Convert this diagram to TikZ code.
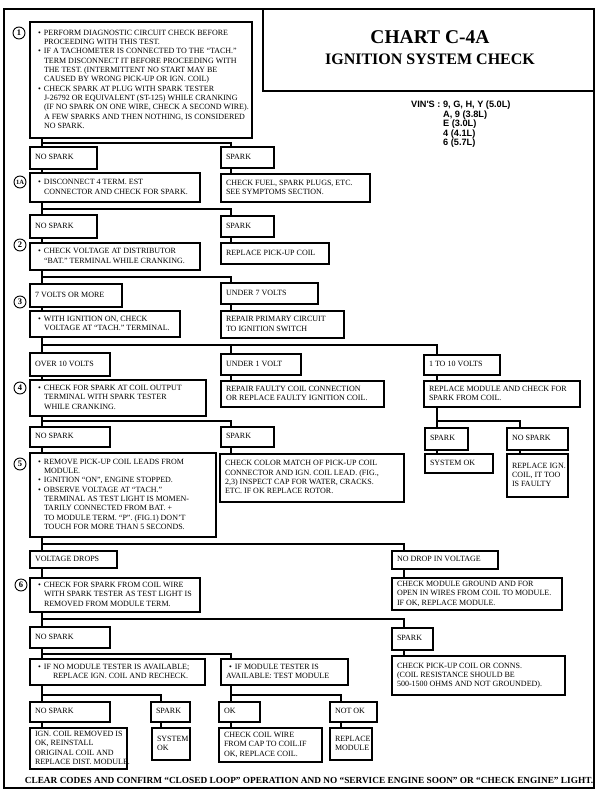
\documentclass[tikz,border=0pt]{standalone}
\usepackage{fontspec}
\setmainfont{Liberation Serif}
\newfontfamily\vinfont{Liberation Sans}
\newcommand\bul{\hspace*{3pt}\makebox[6pt][l]{\textbullet}}
\newcommand\cn{\hspace*{9pt}}
\newcommand\bx[7][]{%
  \pgfmathsetmacro\bw{#5-#3}%
  \pgfmathsetmacro\bh{#6-#4}%
  \pgfmathsetmacro\tw{#5-#3-10}%
  \node[box,anchor=north west,minimum width=\bw pt,minimum height=\bh pt,#1] (#2) at (#3,#4)
    {\makebox[\tw pt][l]{\begin{tabular}{@{}l@{}}#7\end{tabular}}};}
\tikzset{
  box/.style={draw, line width=1.1pt, rectangle, inner xsep=5pt, inner ysep=0pt, outer sep=0pt, font=\fontsize{8}{9.3}\selectfont},
  conn/.style={line width=1.8pt},
  frame/.style={line width=1.6pt},
  num/.style={circle, draw, line width=0.9pt, inner sep=0pt, minimum size=12pt, font=\bfseries\fontsize{8.5}{8.5}\selectfont}
}
\begin{document}
\begin{tikzpicture}[x=1pt,y=-1pt]
\fill[white] (0,0) rectangle (600,795);
\useasboundingbox (0,0) rectangle (600,795);
% frame and title
\draw[frame] (4,9) rectangle (594,788);
\draw[frame] (263,9) -- (263,91) -- (594,91);
\node[font=\bfseries\fontsize{19.5}{20}\selectfont] (title) at (430,37) {CHART C-4A};
\node[font=\bfseries\fontsize{16}{17}\selectfont] (subtitle) at (430,59) {IGNITION SYSTEM CHECK};
\node[anchor=north west, inner sep=0pt, align=left, font=\vinfont\bfseries\fontsize{9.2}{9.5}\selectfont] (vin) at (411,101)
 {VIN'S : 9, G, H, Y (5.0L)\\\hspace*{32pt}A, 9 (3.8L)\\\hspace*{32pt}E (3.0L)\\\hspace*{32pt}4 (4.1L)\\\hspace*{32pt}6 (5.7L)};
% column coordinates
\coordinate (L) at (42,0);
\coordinate (C2) at (231,0);
\coordinate (C3) at (437,0);
\coordinate (C3b) at (520,0);
\coordinate (C4) at (404,0);
\coordinate (Cs) at (161,0);
\coordinate (Cn) at (341,0);
\coordinate (h1) at (42,143);
\coordinate (h2) at (42,209);
\coordinate (h3) at (42,277);
\coordinate (h4) at (42,345);
\coordinate (h5) at (42,421);
\coordinate (h5b) at (437,421);
\coordinate (h6) at (42,544);
\coordinate (h7) at (42,619);
\coordinate (h8) at (42,654);
\coordinate (h9) at (42,695);
\coordinate (h9b) at (231,695);
% boxes column 1
\bx{b1}{30}{22}{252}{138}{\bul PERFORM DIAGNOSTIC CIRCUIT CHECK BEFORE\\\cn PROCEEDING WITH THIS TEST.\\
\bul IF A TACHOMETER IS CONNECTED TO THE ``TACH.''\\\cn TERM DISCONNECT IT BEFORE PROCEEDING WITH\\\cn THE TEST. (INTERMITTENT NO START MAY BE\\\cn CAUSED BY WRONG PICK-UP OR IGN. COIL)\\
\bul CHECK SPARK AT PLUG WITH SPARK TESTER\\\cn J-26792 OR EQUIVALENT (ST-125) WHILE CRANKING\\\cn (IF NO SPARK ON ONE WIRE, CHECK A SECOND WIRE).\\\cn A FEW SPARKS AND THEN NOTHING, IS CONSIDERED\\\cn NO SPARK.}
\bx{ns1}{30}{147}{97}{169}{NO SPARK}
\bx{b1a}{30}{173}{200}{202}{\bul DISCONNECT 4 TERM. EST\\\cn CONNECTOR AND CHECK FOR SPARK.}
\bx{ns2}{30}{215}{97}{238}{NO SPARK}
\bx{b2}{30}{243}{200}{270}{\bul CHECK VOLTAGE AT DISTRIBUTOR\\\cn ``BAT.'' TERMINAL WHILE CRANKING.}
\bx{v7}{30}{284}{122}{307}{7 VOLTS OR MORE}
\bx{b3}{30}{311}{180}{337}{\bul WITH IGNITION ON, CHECK\\\cn VOLTAGE AT ``TACH.'' TERMINAL.}
\bx{o10}{30}{353}{110}{376}{OVER 10 VOLTS}
\bx{b4}{30}{380}{206}{416}{\bul CHECK FOR SPARK AT COIL OUTPUT\\\cn TERMINAL WITH SPARK TESTER\\\cn WHILE CRANKING.}
\bx{ns3}{30}{427}{110}{447}{NO SPARK}
\bx{b5}{30}{453}{216}{537}{\bul REMOVE PICK-UP COIL LEADS FROM\\\cn MODULE.\\
\bul IGNITION ``ON'', ENGINE STOPPED.\\
\bul OBSERVE VOLTAGE AT ``TACH.''\\\cn TERMINAL AS TEST LIGHT IS MOMEN-\\\cn TARILY CONNECTED FROM BAT. +\\\cn TO MODULE TERM. ``P''. (FIG.1) DON'T\\\cn TOUCH FOR MORE THAN 5 SECONDS.}
\bx{vd}{30}{551}{117}{568}{VOLTAGE DROPS}
\bx{b6}{30}{578}{200}{612}{\bul CHECK FOR SPARK FROM COIL WIRE\\\cn WITH SPARK TESTER AS TEST LIGHT IS\\\cn REMOVED FROM MODULE TERM.}
\bx{ns4}{30}{627}{110}{648}{NO SPARK}
\bx{bnm}{30}{659}{205}{685}{\bul IF NO MODULE TESTER IS AVAILABLE;\\\hspace*{18pt}REPLACE IGN. COIL AND RECHECK.}
\bx{ns5}{30}{702}{110}{722}{NO SPARK}
\bx[inner xsep=3.5pt]{icr}{30}{728}{127}{769}{IGN. COIL REMOVED IS\\OK, REINSTALL\\ORIGINAL COIL AND\\REPLACE DIST. MODULE.}
% column 2
\bx{sp1}{221}{147}{274}{168}{SPARK}
\bx{cf}{221}{174}{370}{202}{CHECK FUEL, SPARK PLUGS, ETC.\\SEE SYMPTOMS SECTION.}
\bx{sp2}{221}{216}{274}{237}{SPARK}
\bx{rpc}{221}{243}{329}{264}{REPLACE PICK-UP COIL}
\bx{u7}{221}{283}{318}{304}{UNDER 7 VOLTS}
\bx{rp}{221}{311}{344}{338}{REPAIR PRIMARY CIRCUIT\\TO IGNITION SWITCH}
\bx{u1}{221}{354}{301}{375}{UNDER 1 VOLT}
\bx{rf}{221}{381}{384}{407}{REPAIR FAULTY COIL CONNECTION\\OR REPLACE FAULTY IGNITION COIL.}
\bx{sp3}{221}{427}{274}{447}{SPARK}
\bx{ccm}{220}{454}{404}{502}{CHECK COLOR MATCH OF PICK-UP COIL\\CONNECTOR AND IGN. COIL LEAD. (FIG.,\\2,3) INSPECT CAP FOR WATER, CRACKS.\\ETC. IF OK REPLACE ROTOR.}
\bx{bm}{221}{659}{348}{685}{\bul IF MODULE TESTER IS\\AVAILABLE: TEST MODULE}
\bx{ok}{219}{702}{260}{722}{OK}
\bx{ccw}{219}{728}{322}{762}{CHECK COIL WIRE\\FROM CAP TO COIL.IF\\OK, REPLACE COIL.}
\bx[inner xsep=4pt]{sp6}{151}{702}{190}{722}{SPARK}
\bx[inner xsep=4pt]{sok2}{152}{728}{190}{760}{SYSTEM\\OK}
\bx[inner xsep=4pt]{nok}{330}{702}{377}{722}{NOT OK}
\bx[inner xsep=4pt]{rmod}{330}{728}{372}{760}{REPLACE\\MODULE}
% column 3
\bx{t10}{424}{355}{500}{375}{1 TO 10 VOLTS}
\bx{rm}{424}{381}{580}{407}{REPLACE MODULE AND CHECK FOR\\SPARK FROM COIL.}
\bx{sp4}{425}{428}{468}{450}{SPARK}
\bx{sok}{425}{454}{493}{473}{SYSTEM OK}
\bx{ns6}{507}{428}{568}{450}{NO SPARK}
\bx{ric}{507}{454}{568}{497}{REPLACE IGN.\\COIL, IT TOO\\IS FAULTY}
% column 4
\bx{nd}{392}{551}{498}{569}{NO DROP IN VOLTAGE}
\bx{cmg}{392}{578}{562}{610}{CHECK MODULE GROUND AND FOR\\OPEN IN WIRES FROM COIL TO MODULE.\\IF OK, REPLACE MODULE.}
\bx{sp5}{392}{628}{433}{650}{SPARK}
\bx{cpc}{392}{656}{565}{695}{CHECK PICK-UP COIL OR CONNS.\\(COIL RESISTANCE SHOULD BE\\500-1500 OHMS AND NOT GROUNDED).}
% step numbers
\node[num] (n1) at (19,33) {1};
\node[num, font=\bfseries\fontsize{6.5}{6}\selectfont] (n1a) at (20,182) {1A};
\node[num] (n2) at (20,245) {2};
\node[num] (n3) at (20,302) {3};
\node[num] (n4) at (20,388) {4};
\node[num] (n5) at (20,464) {5};
\node[num] (n6) at (21,585) {6};
% spine column 1
\draw[conn] (b1.south -| L) -- (ns1.north -| L);
\draw[conn] (ns1.south -| L) -- (b1a.north -| L);
\draw[conn] (b1a.south -| L) -- (ns2.north -| L);
\draw[conn] (ns2.south -| L) -- (b2.north -| L);
\draw[conn] (b2.south -| L) -- (v7.north -| L);
\draw[conn] (v7.south -| L) -- (b3.north -| L);
\draw[conn] (b3.south -| L) -- (o10.north -| L);
\draw[conn] (o10.south -| L) -- (b4.north -| L);
\draw[conn] (b4.south -| L) -- (ns3.north -| L);
\draw[conn] (ns3.south -| L) -- (b5.north -| L);
\draw[conn] (b5.south -| L) -- (vd.north -| L);
\draw[conn] (vd.south -| L) -- (b6.north -| L);
\draw[conn] (b6.south -| L) -- (ns4.north -| L);
\draw[conn] (ns4.south -| L) -- (bnm.north -| L);
\draw[conn] (bnm.south -| L) -- (ns5.north -| L);
\draw[conn] (ns5.south -| L) -- (icr.north -| L);
% branches
\draw[conn] (h1) -| (sp1.north -| C2);
\draw[conn] (sp1.south -| C2) -- (cf.north -| C2);
\draw[conn] (h2) -| (sp2.north -| C2);
\draw[conn] (sp2.south -| C2) -- (rpc.north -| C2);
\draw[conn] (h3) -| (u7.north -| C2);
\draw[conn] (u7.south -| C2) -- (rp.north -| C2);
\draw[conn] (h4) -| (u1.north -| C2);
\draw[conn] (h4) -| (t10.north -| C3);
\draw[conn] (u1.south -| C2) -- (rf.north -| C2);
\draw[conn] (t10.south -| C3) -- (rm.north -| C3);
\draw[conn] (rm.south -| C3) -- (sp4.north -| C3);
\draw[conn] (h5b) -| (ns6.north -| C3b);
\draw[conn] (sp4.south -| C3) -- (sok.north -| C3);
\draw[conn] (ns6.south -| C3b) -- (ric.north -| C3b);
\draw[conn] (h5) -| (sp3.north -| C2);
\draw[conn] (sp3.south -| C2) -- (ccm.north -| C2);
\draw[conn] (h6) -| (nd.north -| C4);
\draw[conn] (nd.south -| C4) -- (cmg.north -| C4);
\draw[conn] (h7) -| (sp5.north -| C4);
\draw[conn] (sp5.south -| C4) -- (cpc.north -| C4);
\draw[conn] (h8) -| (bm.north -| C2);
\draw[conn] (h9) -| (sp6.north -| Cs);
\draw[conn] (sp6.south -| Cs) -- (sok2.north -| Cs);
\draw[conn] (bm.south -| C2) -- (ok.north -| C2);
\draw[conn] (h9b) -| (nok.north -| Cn);
\draw[conn] (ok.south -| C2) -- (ccw.north -| C2);
\draw[conn] (nok.south -| Cn) -- (rmod.north -| Cn);
% footer
\node[font=\bfseries\fontsize{9.3}{9.5}\selectfont] (foot) at (309,780) {CLEAR CODES AND CONFIRM ``CLOSED LOOP'' OPERATION AND NO ``SERVICE ENGINE SOON'' OR ``CHECK ENGINE'' LIGHT.};
\end{tikzpicture}
\end{document}
